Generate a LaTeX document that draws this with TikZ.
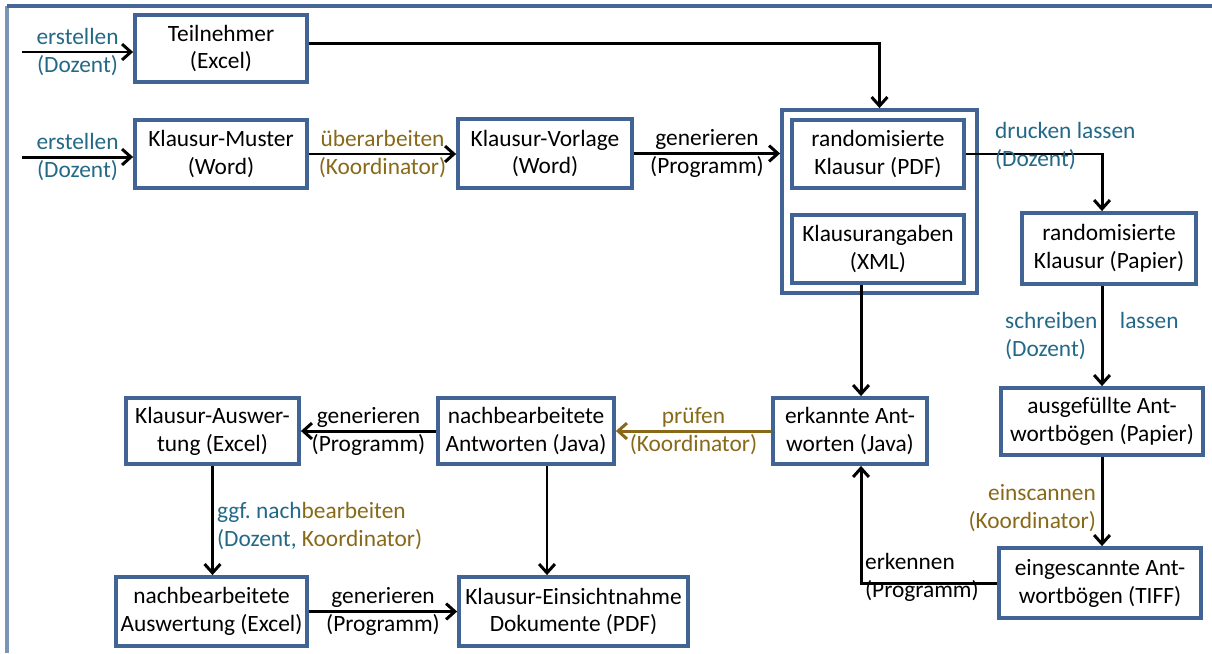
\documentclass[tikz,border=0pt]{standalone}
\usepackage{fontspec}
\setmainfont{Carlito}
\usepackage{tikz}
\usetikzlibrary{arrows.meta}
\usepackage{xcolor}
\definecolor{boxblue}{RGB}{66,100,148}
\definecolor{frameblue}{RGB}{70,102,150}
\definecolor{framegrey}{RGB}{122,150,180}
\definecolor{dozent}{RGB}{35,105,135}
\definecolor{koord}{RGB}{135,105,25}
\tikzset{>={Straight Barb[length=5pt,width=9pt]}}
\tikzset{%
    blockbox/.style={draw=boxblue, line width=2.2pt, fill=white, align=center, inner sep=1pt},
    arrowline/.style={->, line width=1.7pt},
    twoline/.style={align=center, inner sep=1pt}
}

\begin{document}
\begin{tikzpicture}[x=0.02cm, y=-0.02cm, every node/.style={font=\fontsize{13.3}{15.9}\selectfont}]
    \useasboundingbox (0,0) rectangle (1212,653);
    \draw[framegrey, line width=1.8pt] (7,6) -- (7,653);
    \draw[frameblue, line width=1.8pt] (7,6) -- (1212,6);
    \node[blockbox, minimum width=3.44cm, minimum height=1.34cm] (tn) at (221,48.5) {Teilnehmer\\(Excel)};
    \node[blockbox, minimum width=3.44cm, minimum height=1.36cm] (km) at (221,154) {Klausur-Muster\\(Word)};
    \node[blockbox, minimum width=3.48cm, minimum height=1.38cm] (kv) at (545,153.5) {Klausur-Vorlage\\(Word)};
    \node[blockbox, minimum width=3.9cm, minimum height=3.66cm] (rk) at (879.5,201.5) {};
    \node[blockbox, minimum width=3.44cm, minimum height=1.36cm] (rpdf) at (878,154) {randomisierte\\Klausur (PDF)};
    \node[blockbox, minimum width=3.44cm, minimum height=1.36cm] (ang) at (878,249) {Klausurangaben\\(XML)};
    \node[blockbox, minimum width=3.48cm, minimum height=1.42cm] (rpap) at (1109,248.5) {randomisierte\\Klausur (Papier)};
    \node[blockbox, minimum width=4.04cm, minimum height=1.34cm] (ausg) at (1102,421.5) {ausgefüllte Ant-\\wortbögen (Papier)};
    \node[blockbox, minimum width=4.04cm, minimum height=1.4cm] (eing) at (1100,583) {eingescannte Ant-\\wortbögen (TIFF)};
    \node[blockbox, minimum width=3.08cm, minimum height=1.32cm] (erk) at (850,431) {erkannte Ant-\\worten (Java)};
    \node[blockbox, minimum width=3.52cm, minimum height=1.32cm] (nant) at (526,431) {nachbearbeitete\\Antworten (Java)};
    \node[blockbox, minimum width=3.46cm, minimum height=1.32cm] (kaus) at (212.5,431) {Klausur-Auswer-\\tung (Excel)};
    \node[blockbox, minimum width=3.82cm, minimum height=1.38cm] (naus) at (211.5,611.5) {nachbearbeitete\\Auswertung (Excel)};
    \node[blockbox, minimum width=4.58cm, minimum height=1.38cm] (eins) at (573.5,611.5) {Klausur-Einsichtnahme\\Dokumente (PDF)};
    \coordinate (in1) at (22,52);
    \coordinate (in2) at (22,157);
    \draw[arrowline] (in1) -- (in1 -| tn.west) node[midway, twoline, text=dozent] (l1) {erstellen\\(Dozent)};
    \draw[arrowline] (in2) -- (in2 -| km.west) node[midway, twoline, text=dozent] (l2) {erstellen\\(Dozent)};
    \draw[arrowline] ([yshift=0.1cm]tn.east) -| (rk.north);
    \draw[arrowline] (km.east) -- (km.east -| kv.west) node[midway, twoline, text=koord] (l3) {überarbeiten\\(Koordinator)};
    \draw[arrowline] (kv.east) -- (kv.east -| rk.west) node[midway, twoline] (l4) {generieren\\(Programm)};
    \draw[arrowline] (rpdf.east) -| ([xshift=-0.14cm]rpap.north);
    \node[anchor=west, align=left, inner sep=1pt, text=dozent] (l5) at (993,146) {drucken lassen\\(Dozent)};
    \draw[arrowline] (rpap.south -| ausg.north) -- (ausg.north);
    \node[anchor=west, align=left, inner sep=1pt, text=dozent] (l6) at (1003,336) {schreiben\hspace{0.45cm}lassen\\(Dozent)};
    \draw[arrowline] (ausg.south) -- (ausg.south |- eing.north);
    \node[anchor=east, align=right, inner sep=1pt, text=koord] (l7) at (1098,508) {einscannen\\(Koordinator)};
    \draw[arrowline] ([xshift=0.22cm]erk.north |- ang.south) -- ([xshift=0.22cm]erk.north);
    \draw[arrowline] (eing.west) -| ([xshift=0.22cm]erk.south);
    \node[anchor=west, align=left, inner sep=1pt] (l8) at (863,577) {erkennen\\(Programm)};
    \draw[arrowline, draw=koord] (erk.west) -- (nant.east) node[midway, twoline, text=koord] (l9) {prüfen\\(Koordinator)};
    \draw[arrowline] (nant.west) -- (kaus.east) node[midway, twoline] (l10) {generieren\\(Programm)};
    \draw[arrowline] (kaus.south) -- (kaus.south |- naus.north);
    \node[anchor=west, align=left, inner sep=1pt] (l11) at (215,526) {{\color{dozent}ggf.\ nach}{\color{koord}bearbeiten}\\{\color{dozent}(Dozent,} {\color{koord}Koordinator)}};
    \draw[arrowline] ([xshift=0.42cm]nant.south) -- ([xshift=0.42cm]nant.south |- eins.north);
    \draw[arrowline] (naus.east) -- (eins.west) node[midway, twoline] (l12) {generieren\\(Programm)};
\end{tikzpicture}
\end{document}
